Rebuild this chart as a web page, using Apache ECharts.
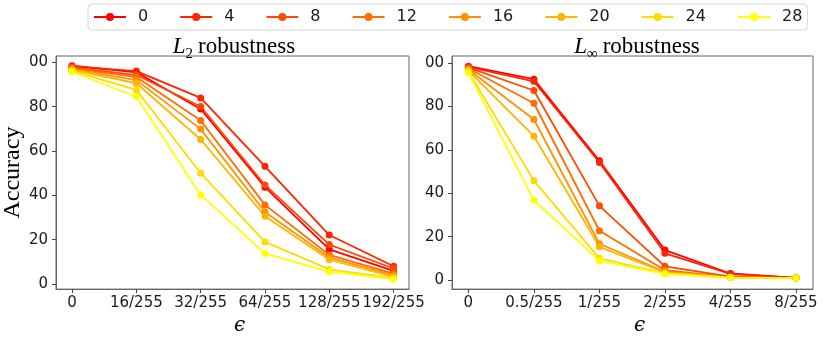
<!DOCTYPE html>
<html>
<head>
<meta charset="utf-8">
<script src="https://cdn.jsdelivr.net/npm/echarts@6/dist/echarts.min.js"></script>
<style>
    html, body { margin: 0; padding: 0; background: #fff; }
    #chart { width: 831px; height: 341px; }
</style>
</head>
<body>
<div id="chart"></div>
<script>
    // legend names (one line per setting) and colours, autumn colormap red -> yellow
    var names = ['0', '4', '8', '12', '16', '20', '24', '28'];
    var colors = ['#ff0000', '#ff2400', '#ff4900', '#ff6d00', '#ff9200', '#ffb600', '#ffdb00', '#ffff00'];

    // x tick labels
    var l2Eps = ['0', '16/255', '32/255', '64/255', '128/255', '192/255'];
    var linfEps = ['0', '0.5/255', '1/255', '2/255', '4/255', '8/255'];
    var yTicks = [0, 20, 40, 60, 80, 100];

    // L2 robustness, accuracy per epsilon
    var l2_0  = [98.5, 95.5, 79.0, 43.7, 15.6, 5.9];
    var l2_4  = [98.2, 96.1, 84.0, 53.1, 22.1, 8.0];
    var l2_8  = [97.8, 94.3, 80.1, 44.7, 17.8, 7.0];
    var l2_12 = [97.4, 93.4, 73.8, 35.7, 13.1, 4.7];
    var l2_16 = [97.0, 92.0, 69.9, 32.5, 12.0, 3.9];
    var l2_20 = [96.6, 90.6, 65.2, 30.6, 11.0, 3.2];
    var l2_24 = [96.2, 87.6, 50.0, 19.0, 6.6, 2.6];
    var l2_28 = [95.8, 84.5, 40.2, 13.8, 5.5, 2.2];

    // Linf robustness
    var linf_0  = [98.6, 92.6, 55.0, 13.8, 3.0, 1.0];
    var linf_4  = [98.3, 91.6, 54.2, 12.3, 2.8, 1.0];
    var linf_8  = [97.9, 87.4, 34.2, 6.3, 1.6, 0.9];
    var linf_12 = [97.5, 81.5, 22.7, 4.5, 1.3, 0.9];
    var linf_16 = [97.1, 74.0, 16.7, 3.8, 1.2, 0.9];
    var linf_20 = [96.6, 66.3, 15.3, 3.5, 1.1, 0.9];
    var linf_24 = [96.1, 45.8, 10.0, 3.0, 1.1, 0.9];
    var linf_28 = [95.6, 36.8, 8.8, 2.8, 1.1, 0.9];

    var l2Data = [l2_0, l2_4, l2_8, l2_12, l2_16, l2_20, l2_24, l2_28];
    var linfData = [linf_0, linf_4, linf_8, linf_12, linf_16, linf_20, linf_24, linf_28];

    var tickFont = { fontFamily: 'DejaVu Sans', fontSize: 15, color: '#1a1a1a' };

    function xAxis(idx, labels, max) {
        return {
            type: 'value', gridIndex: idx, min: -0.25, max: max,
            splitLine: { show: false },
            axisLine: { show: true, onZero: false, lineStyle: { color: '#666' } },
            axisTick: { customValues: [0, 1, 2, 3, 4, 5], length: 4, lineStyle: { color: '#444' } },
            axisLabel: Object.assign({
                customValues: [0, 1, 2, 3, 4, 5], margin: 7,
                formatter: function (v) { return labels[Math.round(v)]; }
            }, tickFont),
            name: 'ϵ', nameLocation: 'middle', nameGap: 20,
            nameTextStyle: { fontFamily: 'DejaVu Serif', fontStyle: 'italic', fontSize: 20, color: '#000', padding: [0, 0, 0, 14] }
        };
    }

    function yAxis(idx, min, max, withName) {
        var ax = {
            type: 'value', gridIndex: idx, min: min, max: max,
            splitLine: { show: false },
            axisLine: { show: true, onZero: false, lineStyle: { color: '#666' } },
            axisTick: { customValues: yTicks, length: 4, lineStyle: { color: '#444' } },
            axisLabel: Object.assign({
                customValues: yTicks, margin: 8,
                // the reference crops the leading "1" of 100
                formatter: function (v) { return v === 100 ? '00' : String(v); }
            }, tickFont)
        };
        if (withName) {
            ax.name = 'Accuracy';
            ax.nameLocation = 'middle';
            ax.nameGap = 24;
            ax.nameTextStyle = { fontFamily: 'Liberation Serif', fontSize: 24, color: '#000' };
        }
        return ax;
    }

    var series = [];
    for (var i = 0; i < names.length; i++) {
        [l2Data, linfData].forEach(function (set, g) {
            series.push({
                name: names[i], type: 'line',
                xAxisIndex: g, yAxisIndex: g,
                data: set[i].map(function (v, k) { return [k, v]; }),
                symbol: 'circle', symbolSize: 7,
                color: colors[i],
                lineStyle: { width: 1.8 },
                emphasis: { disabled: true }
            });
        });
    }

    var titleRich = {
        l: { fontFamily: 'Liberation Serif', fontStyle: 'italic', fontWeight: 'normal', fontSize: 23, lineHeight: 30, color: '#000' },
        sub: { fontFamily: 'Liberation Serif', fontWeight: 'normal', fontSize: 15, lineHeight: 15, verticalAlign: 'bottom', color: '#000' },
        t: { fontFamily: 'Liberation Serif', fontWeight: 'normal', fontSize: 23, lineHeight: 30, color: '#000' }
    };

    var myChart = echarts.init(document.getElementById('chart'));
    myChart.setOption({
        animation: false,
        backgroundColor: '#fff',
        title: [
            { text: '{l|L}{sub|2} {t|robustness}', left: 229, top: 27, textAlign: 'center', textStyle: { fontWeight: 'normal', rich: titleRich } },
            { text: '{l|L}{sub|∞} {t|robustness}', left: 632, top: 27, textAlign: 'center', textStyle: { fontWeight: 'normal', rich: titleRich } }
        ],
        legend: {
            data: names,
            left: 88, top: 4,
            padding: [5, 5],
            itemWidth: 32, itemHeight: 10, itemGap: 31,
            borderColor: '#d6d6d6', borderWidth: 1, borderRadius: 4,
            textStyle: { fontFamily: 'DejaVu Sans', fontSize: 16, color: '#1a1a1a', padding: [0, 0, 0, 7] }
        },
        grid: [
            { left: 49, top: 56, width: 360, height: 241, show: true, borderColor: '#666', borderWidth: 1 },
            { left: 452, top: 56, width: 361, height: 241, show: true, borderColor: '#666', borderWidth: 1 }
        ],
        xAxis: [xAxis(0, l2Eps, 5.24), xAxis(1, linfEps, 5.26)],
        yAxis: [yAxis(0, -2.3, 102.9, true), yAxis(1, -4.2, 103.3, false)],
        series: series
    });
</script>
</body>
</html>
